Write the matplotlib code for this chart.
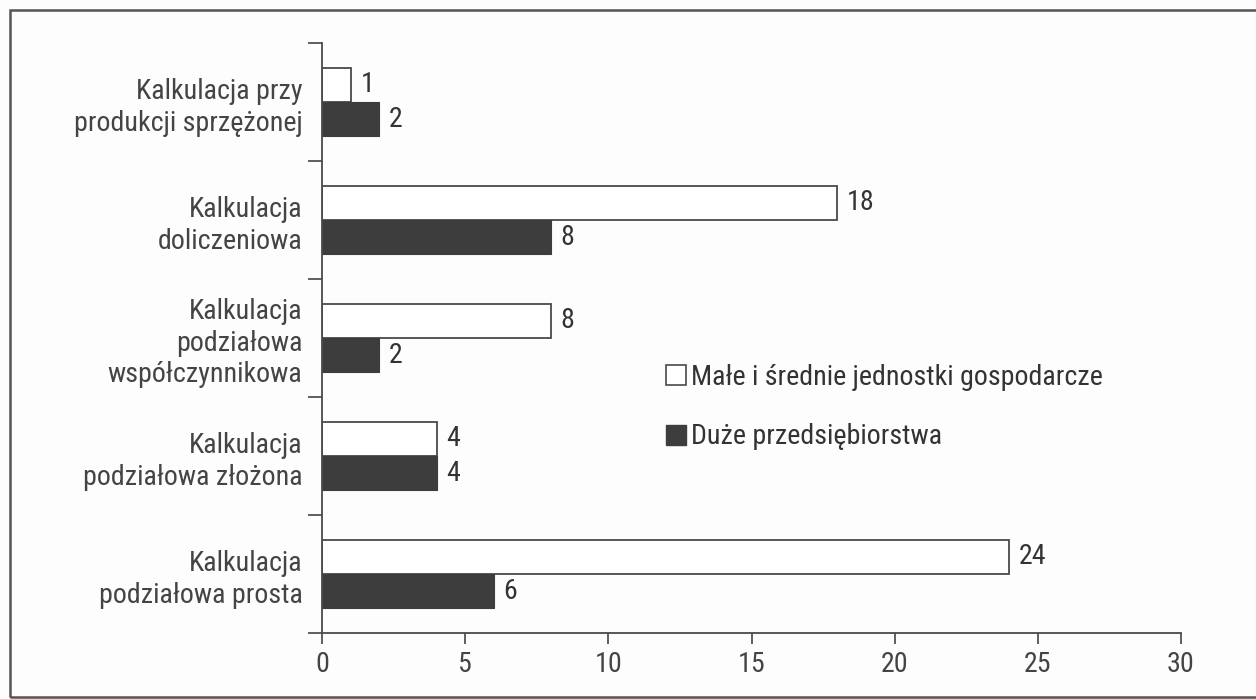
"""
Metody kalkulacji kosztów — porównanie MŚP i dużych przedsiębiorstw.
"""

import numpy as np
import matplotlib
matplotlib.use("Agg")
import matplotlib.pyplot as plt
from matplotlib.patches import Patch, Rectangle

# ── Dane ──────────────────────────────────────────────────────────────────────

kategorie = [
    "Kalkulacja przy\nprodukcji sprzężonej",
    "Kalkulacja\ndoliczeniowa",
    "Kalkulacja\npodziałowa\nwspółczynnikowa",
    "Kalkulacja\npodziałowa złożona",
    "Kalkulacja\npodziałowa prosta",
]
male_srednie = [1, 18, 8, 4, 24]
duze = [2, 8, 2, 4, 6]
seria_nazwy = ["Małe i średnie jednostki gospodarcze", "Duże przedsiębiorstwa"]
x_ticks = [0, 5, 10, 15, 20, 25, 30]

# ── Styl ──────────────────────────────────────────────────────────────────────

plt.rcParams["font.family"] = ["Roboto Condensed", "DejaVu Sans"]
plt.rcParams["text.color"] = "#333333"
plt.rcParams["xtick.color"] = "#444444"
plt.rcParams["ytick.color"] = "#444444"

KOLOR_LINII = "#4a4a4a"
KOLOR_CIEMNY = "#3d3d3d"
ROZMIAR = 20.2

fig = plt.figure(figsize=(12.56, 6.99), dpi=100)
fig.patch.set_facecolor("#fdfdfd")

# ramka wokół całego rysunku
fig.patches.append(Rectangle((10 / 1256, 2 / 699), 1.2, 687 / 699,
                             transform=fig.transFigure, fill=False,
                             edgecolor="#555555", linewidth=1.8))

ax = fig.add_axes([322 / 1256, 1 - 633 / 699, 859 / 1256, 590 / 699])
ax.set_facecolor("none")

y = np.arange(len(kategorie))
h = 0.29
b1 = ax.barh(y - h / 2, male_srednie, height=h, color="white",
             edgecolor=KOLOR_LINII, linewidth=1.3, label=seria_nazwy[0])
b2 = ax.barh(y + h / 2, duze, height=h, color=KOLOR_CIEMNY,
             edgecolor=KOLOR_CIEMNY, linewidth=0.8, label=seria_nazwy[1])
ax.bar_label(b1, padding=7, fontsize=ROZMIAR, color="#333333")
ax.bar_label(b2, padding=7, fontsize=ROZMIAR, color="#333333")

ax.set_xlim(0, 30)
ax.set_ylim(len(kategorie) - 0.5, -0.5)
ax.set_xticks(x_ticks)
ax.tick_params(axis="x", labelsize=ROZMIAR, length=8, width=1.2,
               direction="out", pad=5)

# etykiety kategorii bez kresek, kreski na granicach grup
ax.set_yticks(y)
ax.set_yticklabels(kategorie, fontsize=ROZMIAR, linespacing=1.22)
ax.tick_params(axis="y", which="major", length=0, pad=14)
ax.set_yticks(np.arange(-0.5, len(kategorie)), minor=True)
ax.tick_params(axis="y", which="minor", length=10, width=1.2, direction="out")

for s in ("top", "right"):
    ax.spines[s].set_visible(False)
for s in ("left", "bottom"):
    ax.spines[s].set_color(KOLOR_LINII)
    ax.spines[s].set_linewidth(1.3)

uchwyty = [
    Patch(facecolor="white", edgecolor=KOLOR_LINII, linewidth=1.2),
    Patch(facecolor=KOLOR_CIEMNY, edgecolor=KOLOR_CIEMNY),
]
ax.legend(uchwyty, seria_nazwy, loc="upper left",
          bbox_to_anchor=(655 / 1256, 1 - 353 / 699),
          bbox_transform=fig.transFigure, frameon=False, fontsize=ROZMIAR,
          handlelength=0.72, handleheight=0.72, handletextpad=0.15,
          labelspacing=1.15, borderaxespad=0)

fig.savefig("out.png", dpi=100, facecolor=fig.get_facecolor())
